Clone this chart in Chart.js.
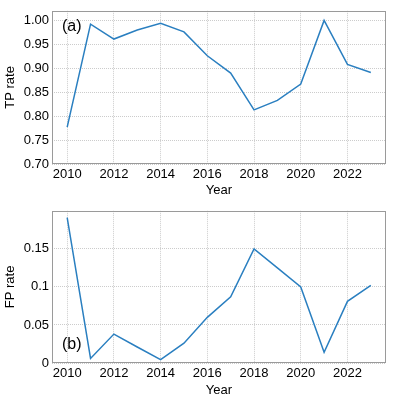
<!DOCTYPE html>
<html><head><meta charset="utf-8">
<script src="https://cdn.jsdelivr.net/npm/chart.js@4"></script>
<style>
html,body{margin:0;padding:0;background:#fff;width:399px;height:399px;overflow:hidden}
#wrapA{position:absolute;left:0;top:0;width:399px;height:200px}
#wrapB{position:absolute;left:0;top:200px;width:399px;height:199px}
</style></head><body>
<div id="wrapA"><canvas id="a" width="399" height="200"></canvas></div>
<div id="wrapB"><canvas id="b" width="399" height="199"></canvas></div>
<script>
const years = [2010,2011,2012,2013,2014,2015,2016,2017,2018,2019,2020,2021,2022,2023];
const tpRate = [0.777,0.992,0.961,0.980,0.994,0.976,0.926,0.890,0.813,0.833,0.867,1.000,0.908,0.891];
const fpRate = [0.191,0.006,0.038,0.021,0.0045,0.026,0.060,0.087,0.150,0.125,0.100,0.014,0.081,0.102];
const yearTicks = [2010,2012,2014,2016,2018,2020,2022];
const tpTicks = [0.70,0.75,0.80,0.85,0.90,0.95,1.00];
const tpTickLabels = ['0.70','0.75','0.80','0.85','0.90','0.95','1.00'];
const fpTicks = [0,0.05,0.1,0.15];
const fpTickLabels = ['0','0.05','0.1','0.15'];

const FONT = {family:'"Liberation Sans", Arial, sans-serif', size:13};
const LINE = '#2a7fc0';

function makeChart(id, values, yTicks, yLabels, yMin, yMax, yTitle, panel, panelY, padTop, titleBottom){
  const panelPlugin = {
    id:'frame'+id,
    afterDraw(chart){
      const {ctx, chartArea:a} = chart;
      ctx.save();
      ctx.strokeStyle = '#9a9a9a';
      ctx.lineWidth = 1;
      ctx.strokeRect(Math.round(a.left)+0.5, Math.round(a.top)+0.5, Math.round(a.right-a.left)-1, Math.round(a.bottom-a.top)-1);
      ctx.fillStyle = '#000';
      ctx.font = '16px "Liberation Sans", Arial, sans-serif';
      ctx.textBaseline = 'middle';
      ctx.textAlign = 'left';
      ctx.fillText(panel, 62, panelY);
      ctx.restore();
    }
  };
  return new Chart(document.getElementById(id), {
    type:'line',
    data:{datasets:[{data: years.map((x,i)=>({x:x, y:values[i]})), borderColor:LINE, borderWidth:1.5, pointRadius:0, tension:0, fill:false}]},
    options:{
      responsive:false, animation:false, devicePixelRatio:1,
      layout:{padding:{top:padTop,right:13,left:0,bottom:0}},
      plugins:{legend:{display:false}, tooltip:{enabled:false}},
      scales:{
        x:{type:'linear', min:2009.35, max:2023.65,
          afterBuildTicks:s=>{s.ticks = yearTicks.map(v=>({value:v}));},
          afterFit:s=>{s.height = 36;},
          ticks:{font:FONT, color:'#000', padding:3, maxRotation:0, autoSkip:false, callback:v=>String(v)},
          grid:{color:'#cccccc', drawTicks:false, lineWidth:1},
          border:{display:false, dash:[1,1]},
          title:{display:true, text:'Year', font:FONT, color:'#000', padding:{top:0,bottom:titleBottom}}
        },
        y:{type:'linear', min:yMin, max:yMax,
          afterBuildTicks:s=>{s.ticks = yTicks.map(v=>({value:v}));},
          afterFit:s=>{s.width = 52;},
          ticks:{font:FONT, color:'#000', padding:3, autoSkip:false, callback:(v)=>{const i=yTicks.findIndex(t=>Math.abs(t-v)<1e-9); return i>=0?yLabels[i]:'';}},
          grid:{color:'#cccccc', drawTicks:false, lineWidth:1},
          border:{display:false, dash:[1,1]},
          title:{display:true, text:yTitle, font:FONT, color:'#000', padding:{top:3,bottom:0}}
        }
      }
    },
    plugins:[panelPlugin]
  });
}
makeChart('a', tpRate, tpTicks, tpTickLabels, 0.70, 1.02, 'TP rate', '(a)', 27, 6, 2);
makeChart('b', fpRate, fpTicks, fpTickLabels, 0, 0.2, 'FP rate', '(b)', 145, 5, 1);
</script>
</body></html>
